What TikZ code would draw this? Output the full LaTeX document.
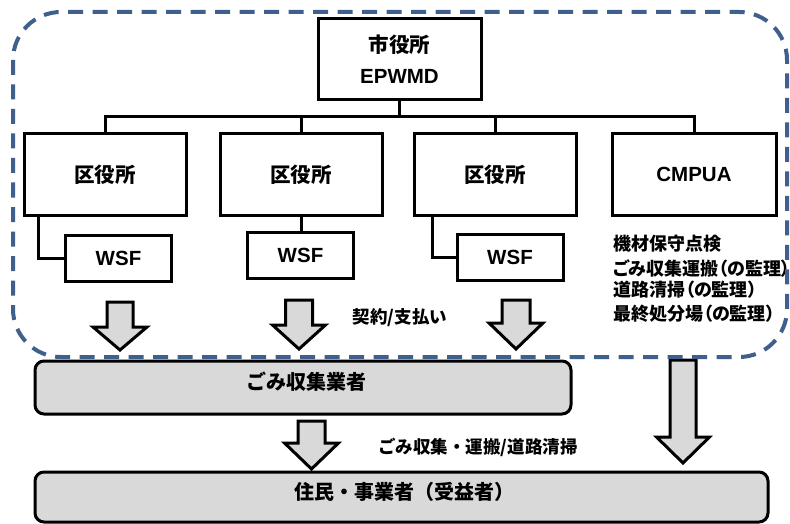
\documentclass[tikz,border=0pt]{standalone}
\usepackage{fontspec}
\setmainfont{Liberation Sans}
\newfontfamily\jp{Noto Sans CJK JP}
\newfontfamily\jpp{Noto Sans CJK JP}[RawFeature=+palt]
\definecolor{boxgray}{RGB}{217,217,217}
\definecolor{dashblue}{RGB}{63,96,140}
\newcommand\blockarrow[6]{%
  \draw[barrow] ({#1-#5},#2) -- ({#1+#5},#2) -- ({#1+#5},#3) -- ({#1+#6},#3)
    -- (#1,#4) -- ({#1-#6},#3) -- ({#1-#5},#3) -- cycle;}
\begin{document}
\begin{tikzpicture}[x=1pt,y=-1pt,
  box/.style={draw,line width=3pt,inner sep=0pt,align=center,
    font=\bfseries\fontsize{20.5}{31}\selectfont},
  kubox/.style={box,minimum width=162pt,minimum height=81pt},
  wsfbox/.style={box,minimum width=106pt,minimum height=46pt},
  gbox/.style={draw,line width=3pt,fill=boxgray,rounded corners=9pt,inner sep=0pt},
  conn/.style={line width=3pt,line join=miter},
  barrow/.style={draw,line width=3pt,fill=boxgray,line join=miter},
  jpbig/.style={font=\jp\bfseries\fontsize{20}{24}\selectfont,inner sep=0pt},
  jpmid/.style={font=\jp\bfseries\fontsize{17.5}{21}\selectfont,inner sep=0pt},
  jplist/.style={font=\jpp\bfseries\fontsize{18}{21}\selectfont,inner sep=0pt,anchor=west},
  region/.style={draw=dashblue,line width=4pt,dash pattern=on 15pt off 9.5pt,rounded corners=48pt}
]
\useasboundingbox (0,0) rectangle (790,524);

% top box
\node[box,minimum width=163pt,minimum height=81pt] (top) at (399.5,59.5)
  {{\jp\bfseries 市役所}\\EPWMD};

% district offices
\node[kubox] (k1) at (105,174.5) {\jp\bfseries 区役所};
\node[kubox] (k2) at (301,174.5) {\jp\bfseries 区役所};
\node[kubox] (k3) at (495,174.5) {\jp\bfseries 区役所};
\node[kubox,minimum width=164pt] (k4) at (694,174.5) {CMPUA};

% bus
\coordinate (bus) at (0,117);
\draw[conn] (k1.north) -- (k1.north |- bus) -- (k4.north |- bus) -- (k4.north);
\draw[conn] (top.south) -- (top.south |- bus);
\draw[conn] (k2.north) -- (k2.north |- bus);
\draw[conn] (k3.north) -- (k3.north |- bus);

% WSF
\node[wsfbox] (w1) at (118.5,258.5) {WSF};
\node[wsfbox] (w2) at (300.5,255) {WSF};
\node[wsfbox] (w3) at (510,257) {WSF};
\draw[conn] ([xshift=16pt]k1.south west) |- (w1.west);
\draw[conn] (k2.south) -- (k2.south |- w2.north);
\draw[conn] ([xshift=20pt]k3.south west) |- (w3.west);

% CMPUA task list
\node[jplist] (t1) at (613,244) {機材保守点検};
\node[jplist] (t2) at (613,269) {ごみ収集運搬（の監理）};
\node[jplist] (t3) at (613,290) {道路清掃（の監理）};
\node[jplist] (t4) at (613,314) {最終処分場（の監理）};

% contract label
\node[jpmid] (lab1) at (400,318) {契約/支払い};

% block arrows
\blockarrow{120}{302}{327}{350}{13}{27}
\blockarrow{299}{300}{325}{349}{13.5}{26.5}
\blockarrow{516}{300}{323}{349}{14}{27}

% collectors box
\node[gbox,minimum width=536pt,minimum height=53pt] (g1) at (303,387.5) {};
\node[jpbig] (g1t) at ([xshift=3pt,yshift=6pt]g1.center) {ごみ収集業者};

\blockarrow{311.5}{421}{443}{469}{13.5}{27}
\node[jpmid] (lab2) at (478,447) {ごみ収集・運搬/道路清掃};

\blockarrow{683}{360}{437}{463}{13}{26.5}

% residents box
\node[gbox,minimum width=733pt,minimum height=50pt] (g2) at (401.5,497) {};
\node[jpbig] (g2t) at ([xshift=3pt,yshift=5pt]g2.center) {住民・事業者（受益者）};

% dashed region
\draw[region] (13,12) rectangle (787,357);
\end{tikzpicture}
\end{document}
